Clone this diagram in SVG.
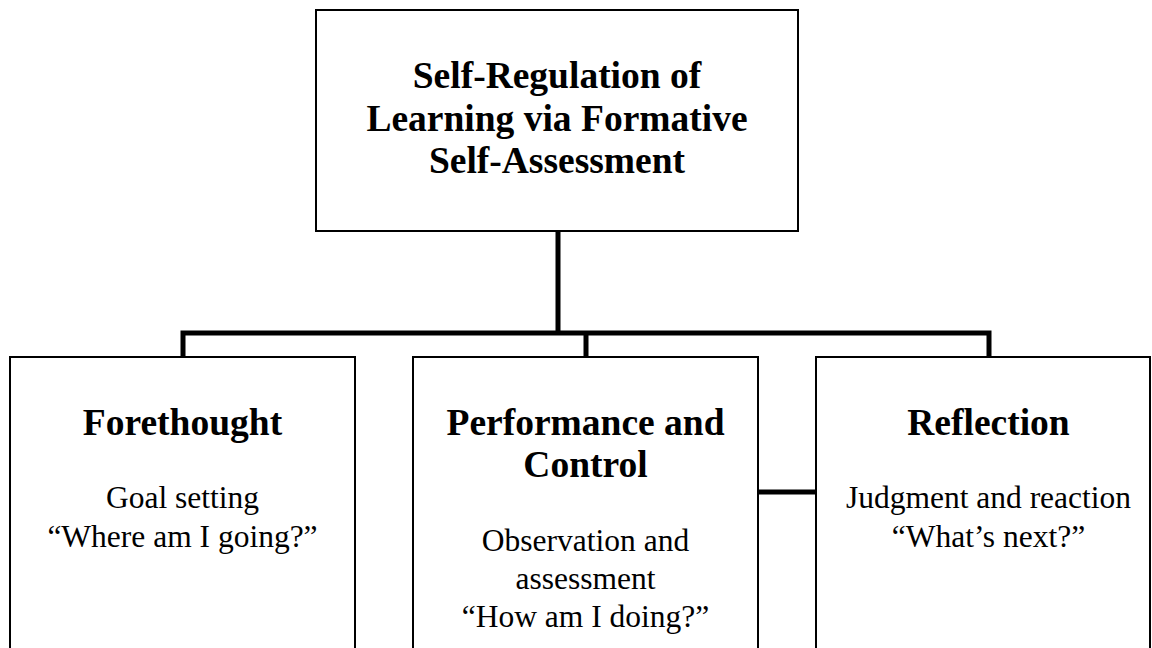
<svg xmlns="http://www.w3.org/2000/svg" width="1152" height="648" viewBox="0 0 1152 648">
<style>
.box{fill:#fff;stroke:#000;stroke-width:2}
.conn{stroke:#000;stroke-width:5;fill:none;stroke-linecap:square}
.t{font-family:"Liberation Serif","Times New Roman",serif;text-anchor:middle;fill:#000}
.b{font-weight:bold;font-size:37.5px}
.r{font-size:31.5px}
</style>
<rect width="1152" height="648" fill="#fff"/>
<g id="connectors">
<path class="conn" d="M558 232 V333 M183 333 H989 M183 333 V355 M586 333 V355 M989 333 V355 M759 492 H815"/>
</g>
<g id="root">
<rect class="box" x="316" y="10" width="482" height="221"/>
<text class="t b" x="557" y="88">Self-Regulation of</text>
<text class="t b" x="557" y="131">Learning via Formative</text>
<text class="t b" x="557" y="173">Self-Assessment</text>
</g>
<g id="forethought">
<rect class="box" x="10" y="357" width="345" height="320"/>
<text class="t b" x="182.5" y="435">Forethought</text>
<text class="t r" x="182.5" y="508">Goal setting</text>
<text class="t r" x="182.5" y="547">“Where am I going?”</text>
</g>
<g id="performance">
<rect class="box" x="413" y="357" width="345" height="320"/>
<text class="t b" x="585.5" y="435">Performance and</text>
<text class="t b" x="585.5" y="477">Control</text>
<text class="t r" x="585.5" y="551">Observation and</text>
<text class="t r" x="585.5" y="589">assessment</text>
<text class="t r" x="585.5" y="627">“How am I doing?”</text>
</g>
<g id="reflection">
<rect class="box" x="816" y="357" width="334" height="320"/>
<text class="t b" x="988.5" y="435">Reflection</text>
<text class="t r" x="988.5" y="508">Judgment and reaction</text>
<text class="t r" x="988.5" y="547">“What’s next?”</text>
</g>
</svg>
